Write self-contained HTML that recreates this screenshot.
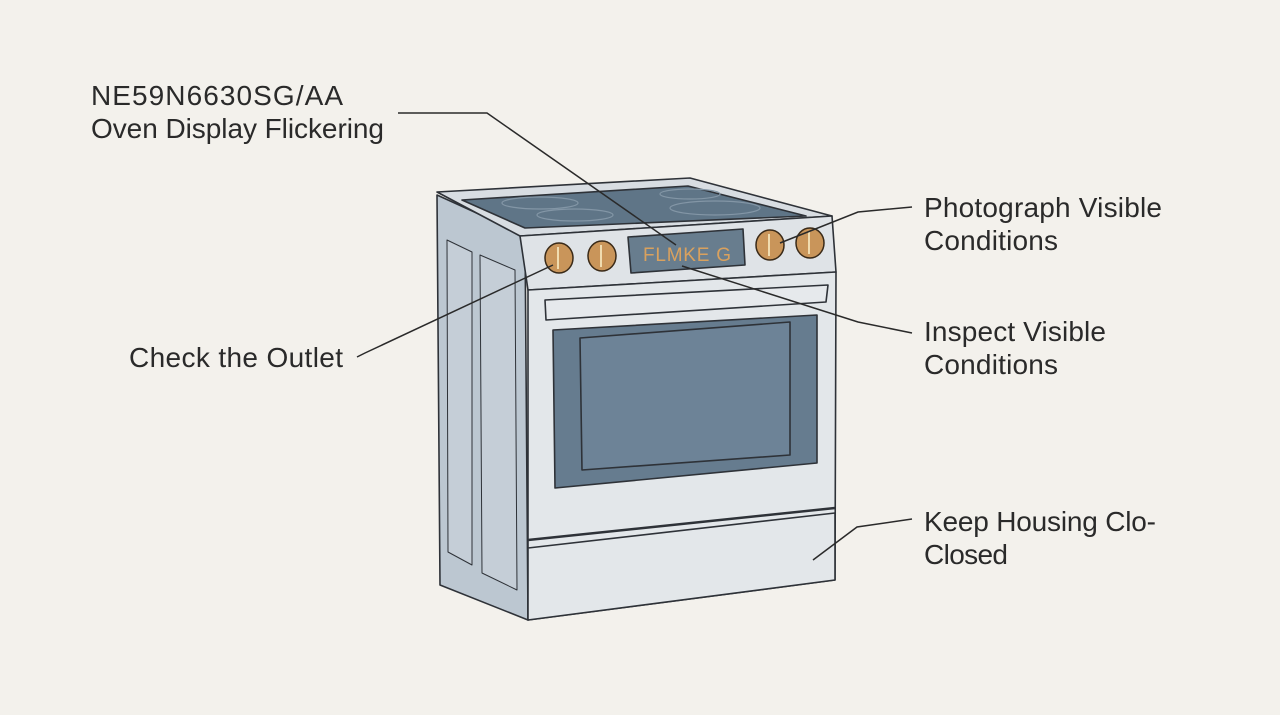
<!DOCTYPE html>
<html><head><meta charset="utf-8"><style>
html,body{margin:0;padding:0;background:#f3f1ec;}
svg{display:block}
text{font-family:"Liberation Sans",sans-serif;font-size:28px;fill:#2a2a2a}
</style></head><body>
<svg width="1280" height="715" viewBox="0 0 1280 715" xmlns="http://www.w3.org/2000/svg">
<rect width="1280" height="715" fill="#f3f1ec"/>
<g stroke="#2e3238" stroke-width="1.6" stroke-linejoin="round">
<polygon points="437,195 525,235 528,620 440,585" fill="#bcc7d1"/>
<polygon points="447,240 472,252 472,565 448,552" fill="#c5ced7" stroke-width="1"/>
<polygon points="480,255 515,270 517,590 482,573" fill="#c5ced7" stroke-width="1"/>
<polygon points="437,192 690,178 832,216 520,236" fill="#d8dde2"/>
<polygon points="462,200 688,186 806,216 525,228" fill="#5f7587"/>
<ellipse cx="540" cy="203" rx="38" ry="6" fill="none" stroke="#8396a6" stroke-width="1.2"/>
<ellipse cx="575" cy="215" rx="38" ry="6" fill="none" stroke="#8396a6" stroke-width="1.2"/>
<ellipse cx="690" cy="194" rx="30" ry="5" fill="none" stroke="#8396a6" stroke-width="1.2"/>
<ellipse cx="715" cy="208" rx="45" ry="7" fill="none" stroke="#8396a6" stroke-width="1.2"/>
<polygon points="520,236 832,216 836,272 528,290" fill="#dfe3e7"/>
<polygon points="628,237 743,229 745,265 631,273" fill="#687d8e"/>
<polygon points="528,290 836,272 835,580 528,620" fill="#e3e7ea"/>
<polygon points="545,300 828,285 826,302 546,320" fill="#e6e9ec"/>
<polygon points="553,330 817,315 817,463 555,488" fill="#667c8f"/>
<polygon points="580,338 790,322 790,455 582,470" fill="#6d8397"/>
<polygon points="528,548 835,513 835,580 528,620" fill="#e3e7ea"/>
<line x1="528" y1="540" x2="835" y2="508" stroke-width="2.5"/>
</g>
<g stroke="#3a2a18" stroke-width="1.5" fill="#c9955a">
<ellipse cx="559" cy="258" rx="14" ry="15"/>
<ellipse cx="602" cy="256" rx="14" ry="15"/>
<ellipse cx="770" cy="245" rx="14" ry="15"/>
<ellipse cx="810" cy="243" rx="14" ry="15"/>
</g>
<g stroke="#f0dcb0" stroke-width="2">
<line x1="558" y1="247" x2="558" y2="269"/><line x1="601" y1="245" x2="601" y2="267"/>
<line x1="769" y1="234" x2="769" y2="256"/><line x1="809" y1="232" x2="809" y2="254"/>
</g>
<text x="643" y="261" style="font-size:19px;fill:#d9a15e" textLength="88">FLMKE G</text>
<g stroke="#2a2a2a" stroke-width="1.5" fill="none">
<polyline points="398,113 487,113 676,245"/>
<polyline points="912,207 858,212 780,243"/>
<polyline points="357,357 365,353 553,265"/>
<polyline points="912,333 858,322 682,266"/>
<polyline points="912,519 857,527 813,560"/>
</g>
<text x="91" y="105" textLength="252">NE59N6630SG/AA</text>
<text x="91" y="138" textLength="293">Oven Display Flickering</text>
<text x="129" y="367" textLength="214">Check the Outlet</text>
<text x="924" y="217" textLength="238">Photograph Visible</text>
<text x="924" y="250" textLength="134">Conditions</text>
<text x="924" y="341" textLength="182">Inspect Visible</text>
<text x="924" y="374" textLength="134">Conditions</text>
<text x="924" y="531" textLength="232">Keep Housing Clo-</text>
<text x="924" y="564" textLength="84">Closed</text>
</svg>
</body></html>
